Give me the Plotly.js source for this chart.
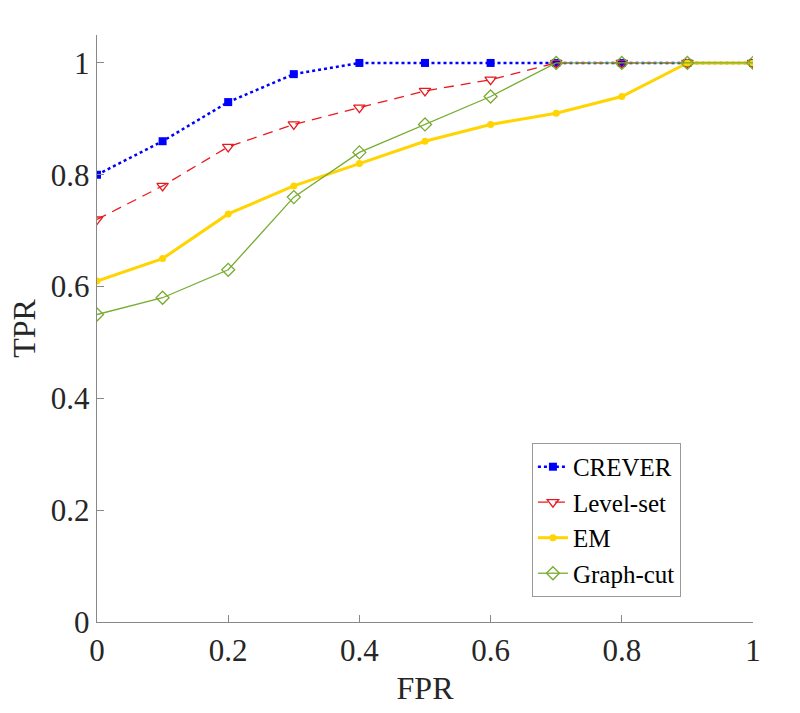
<!DOCTYPE html>
<html>
<head>
<meta charset="utf-8">
<script src="https://cdn.plot.ly/plotly-3.0.1.min.js"></script>
<style>html,body{margin:0;padding:0;background:#fff}#chart{width:800px;height:713px}</style>
</head>
<body>
<div id="chart"></div>
<script>
const fpr = [0, 0.1, 0.2, 0.3, 0.4, 0.5, 0.6, 0.7, 0.8, 0.9, 1.0];
const crever = [0.80, 0.86, 0.93, 0.98, 1, 1, 1, 1, 1, 1, 1];
const levelSet = [0.72, 0.78, 0.85, 0.89, 0.92, 0.95, 0.97, 1, 1, 1, 1];
const em = [0.61, 0.65, 0.73, 0.78, 0.82, 0.86, 0.89, 0.91, 0.94, 1, 1];
const graphCut = [0.55, 0.58, 0.63, 0.76, 0.84, 0.89, 0.94, 1, 1, 1, 1];
const tickVals = [0, 0.2, 0.4, 0.6, 0.8, 1];
const tickText = ['0', '0.2', '0.4', '0.6', '0.8', '1'];

const traces = [
  {x: fpr, y: crever, name: 'CREVER', mode: 'lines+markers',
   line: {color: '#0000FF', width: 2.5, dash: 'dot'},
   marker: {symbol: 'square', size: 8, color: '#0000FF'}},
  {x: fpr, y: levelSet, name: 'Level-set', mode: 'lines+markers',
   line: {color: '#E8191C', width: 1.3, dash: '10px,7px'},
   marker: {symbol: 'triangle-down-open', size: 10, color: '#E8191C', line: {width: 1.3}}},
  {x: fpr, y: em, name: 'EM', mode: 'lines+markers',
   line: {color: '#FFD400', width: 3},
   marker: {symbol: 'circle', size: 7, color: '#FFD400'}},
  {x: fpr, y: graphCut, name: 'Graph-cut', mode: 'lines+markers',
   line: {color: '#77AC30', width: 1.3},
   marker: {symbol: 'diamond-open', size: 10, color: '#77AC30', line: {width: 1.3}}}
];

const layout = {
  width: 800, height: 713,
  margin: {l: 97, r: 47, t: 35, b: 91},
  paper_bgcolor: '#fff', plot_bgcolor: '#fff',
  font: {family: '"Liberation Serif", "Times New Roman", serif', color: '#262626'},
  showlegend: true,
  legend: {x: 0.663, y: 0.305, xanchor: 'left', yanchor: 'top',
    bgcolor: '#fff', bordercolor: '#999', borderwidth: 1,
    font: {size: 25, color: '#000'}, tracegroupgap: 0},
  xaxis: {range: [0, 1], tickvals: tickVals, ticktext: tickText,
    ticks: 'inside', ticklen: 7, tickcolor: '#888', showline: true, linecolor: '#888',
    linewidth: 1.3, showgrid: false, zeroline: false,
    tickfont: {size: 31, color: '#262626'},
    title: {text: 'FPR', font: {size: 32, color: '#262626'}, standoff: 10}},
  yaxis: {range: [0, 1.05], tickvals: tickVals, ticktext: tickText,
    ticks: 'inside', ticklen: 7, tickcolor: '#888', showline: true, linecolor: '#888',
    linewidth: 1.3, showgrid: false, zeroline: false,
    tickfont: {size: 31, color: '#262626'},
    title: {text: 'TPR', font: {size: 32, color: '#262626'}, standoff: 5}}
};

Plotly.newPlot('chart', traces, layout, {displayModeBar: false, staticPlot: true});
</script>
</body>
</html>
